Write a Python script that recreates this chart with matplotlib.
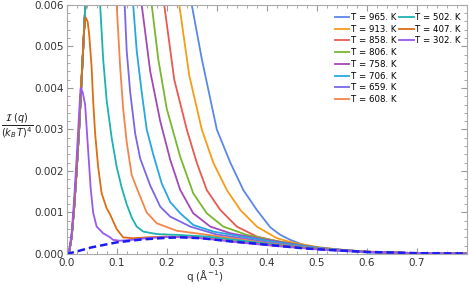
import matplotlib
matplotlib.use("Agg")
import matplotlib.pyplot as plt
from matplotlib.lines import Line2D
from matplotlib.ticker import MultipleLocator, FormatStrFormatter

# shared steep rise near q = 0 (all curves overlap there)
rise_q = [0.0, 0.005, 0.01, 0.015, 0.02, 0.025, 0.03, 0.035, 0.04]
rise_v = [0.0, 0.00004, 0.0004, 0.0011, 0.002, 0.003, 0.0042, 0.0054, 0.0066]

temps = [965, 913, 858, 806, 758, 706, 659, 608, 502, 407, 302]
colors = ["#5a88e6", "#f59d1a", "#e85a4f", "#79b72f", "#a448b8", "#27a7e0",
          "#7868e8", "#f4844a", "#1bb3b0", "#dd6d12", "#9a58ee"]

# decaying part of each curve, q in 1/A
tail_q = {
    965: [0.06, 0.25, 0.27, 0.3, 0.327, 0.353, 0.38, 0.407, 0.427, 0.447, 0.473, 0.507, 0.54, 0.607, 0.7, 0.8],
    913: [0.06, 0.225, 0.245, 0.27, 0.293, 0.32, 0.347, 0.38, 0.42, 0.45, 0.5, 0.55, 0.6, 0.7, 0.8],
    858: [0.06, 0.195, 0.215, 0.24, 0.26, 0.28, 0.307, 0.34, 0.38, 0.42, 0.47, 0.52, 0.6, 0.7, 0.8],
    806: [0.06, 0.17, 0.183, 0.2, 0.227, 0.253, 0.28, 0.313, 0.36, 0.42, 0.47, 0.52, 0.6, 0.7, 0.8],
    758: [0.06, 0.15, 0.167, 0.187, 0.207, 0.227, 0.253, 0.287, 0.327, 0.38, 0.43, 0.5, 0.6, 0.7, 0.8],
    706: [0.06, 0.133, 0.14, 0.15, 0.16, 0.173, 0.19, 0.207, 0.227, 0.253, 0.293, 0.35, 0.42, 0.5, 0.6, 0.7, 0.8],
    659: [0.06, 0.116, 0.12, 0.127, 0.137, 0.147, 0.167, 0.187, 0.207, 0.247, 0.3, 0.35, 0.42, 0.5, 0.6, 0.7, 0.8],
    608: [0.06, 0.1, 0.107, 0.113, 0.12, 0.13, 0.143, 0.16, 0.18, 0.22, 0.27, 0.33, 0.4, 0.5, 0.6, 0.7, 0.8],
    502: [0.05, 0.067, 0.073, 0.08, 0.09, 0.1, 0.11, 0.12, 0.13, 0.14, 0.153, 0.18, 0.22, 0.28, 0.35, 0.42, 0.5, 0.6, 0.7, 0.8],
}
tail_v = {
    965: [0.009, 0.006, 0.0047, 0.003, 0.0022, 0.00154, 0.00106, 0.00064, 0.00046, 0.00034, 0.00022, 0.00014, 0.00008, 0.00003, 0.00002, 0.00001],
    913: [0.009, 0.006, 0.0043, 0.003, 0.0022, 0.00154, 0.00106, 0.00066, 0.00038, 0.00028, 0.00017, 0.0001, 0.00006, 0.00002, 0.00001],
    858: [0.009, 0.006, 0.0042, 0.003, 0.0022, 0.00154, 0.00106, 0.00066, 0.00042, 0.00031, 0.00021, 0.00012, 0.00005, 0.00002, 0.00001],
    806: [0.009, 0.006, 0.0047, 0.0035, 0.00234, 0.00146, 0.00098, 0.00066, 0.00046, 0.00031, 0.00021, 0.00012, 0.00005, 0.00002, 0.00001],
    758: [0.009, 0.006, 0.0044, 0.0032, 0.00227, 0.00154, 0.00098, 0.00066, 0.0005, 0.00038, 0.00028, 0.00015, 0.00005, 0.00002, 0.00001],
    706: [0.009, 0.006, 0.0049, 0.0039, 0.003, 0.0024, 0.0017, 0.00125, 0.00098, 0.0007, 0.00054, 0.00042, 0.00028, 0.00015, 0.00005, 0.00002, 0.00001],
    659: [0.009, 0.006, 0.0049, 0.0039, 0.0029, 0.0023, 0.00165, 0.00114, 0.0009, 0.00066, 0.00047, 0.00038, 0.00025, 0.00014, 0.00005, 0.00002, 0.00001],
    608: [0.009, 0.006, 0.0045, 0.0035, 0.0027, 0.0019, 0.0015, 0.001, 0.00074, 0.00056, 0.00048, 0.00038, 0.00026, 0.00013, 0.00005, 0.00002, 0.00001],
    502: [0.0085, 0.006, 0.0047, 0.0037, 0.0028, 0.0021, 0.0016, 0.0012, 0.00088, 0.00066, 0.00054, 0.00048, 0.00046, 0.00042, 0.00032, 0.00022, 0.00013, 0.00005, 0.00002, 0.00001],
}

# the two coolest curves peak inside the frame
q407 = [0.0, 0.005, 0.01, 0.015, 0.02, 0.025, 0.03, 0.035, 0.038, 0.042, 0.045, 0.05, 0.053, 0.057, 0.063,
        0.07, 0.08, 0.087, 0.1, 0.113, 0.133, 0.16, 0.2, 0.25, 0.3, 0.35, 0.42, 0.5, 0.6, 0.7, 0.8]
v407 = [0.0, 0.00004, 0.0004, 0.0011, 0.002, 0.0031, 0.0043, 0.0054, 0.0057, 0.0056, 0.0053, 0.0045, 0.0037, 0.0029, 0.0021,
        0.00146, 0.0011, 0.00095, 0.0006, 0.0004, 0.00038, 0.0004, 0.00042, 0.0004, 0.00035, 0.00028, 0.0002, 0.00012, 0.00005, 0.00002, 0.00001]
q302 = [0.0, 0.005, 0.01, 0.015, 0.02, 0.025, 0.028, 0.032, 0.037, 0.043, 0.048, 0.053, 0.06, 0.073, 0.087,
        0.093, 0.107, 0.13, 0.16, 0.2, 0.25, 0.3, 0.35, 0.42, 0.5, 0.6, 0.7, 0.8]
v302 = [0.0, 0.00005, 0.0005, 0.0013, 0.0023, 0.0034, 0.004, 0.0039, 0.0036, 0.0025, 0.0016, 0.001, 0.00066, 0.0005, 0.0004,
        0.00034, 0.00032, 0.00034, 0.00038, 0.00041, 0.0004, 0.00034, 0.00027, 0.00019, 0.00011, 0.00005, 0.00002, 0.00001]

# dashed lower envelope
base_q = [0.0, 0.02, 0.05, 0.1, 0.15, 0.2, 0.23, 0.27, 0.33, 0.37, 0.42, 0.47, 0.52, 0.6, 0.7, 0.8]
base_v = [0.0, 0.00006, 0.00016, 0.00028, 0.00035, 0.00039, 0.0004, 0.00038, 0.0003, 0.00026, 0.0002, 0.00014, 0.0001, 0.00005, 0.00002, 0.00001]

fig = plt.figure(figsize=(4.69, 2.87), dpi=100)
ax = fig.add_axes([0.142, 0.115, 0.854, 0.868])

handles = []
for T, c in zip(temps, colors):
    if T == 407:
        qs, vs = q407, v407
    elif T == 302:
        qs, vs = q302, v302
    else:
        qs, vs = rise_q + tail_q[T], rise_v + tail_v[T]
    ln, = ax.plot(qs, vs, color=c, lw=1.3, label="T = %d. K" % T)
    handles.append(ln)

ax.plot(base_q, base_v, color="#1c1cf0", lw=1.8, ls=(0, (3, 1.6)))

ax.set_xlim(0, 0.8)
ax.set_ylim(0, 0.006)
ax.xaxis.set_major_locator(MultipleLocator(0.1))
ax.xaxis.set_minor_locator(MultipleLocator(0.02))
ax.yaxis.set_major_locator(MultipleLocator(0.001))
ax.yaxis.set_minor_locator(MultipleLocator(0.0002))
ax.xaxis.set_major_formatter(FormatStrFormatter("%.1f"))
ax.yaxis.set_major_formatter(FormatStrFormatter("%.3f"))
ax.set_xticks([0, 0.1, 0.2, 0.3, 0.4, 0.5, 0.6, 0.7])
ax.tick_params(which="both", direction="in", top=True, right=True, color="#999999",
               labelsize=7.5, labelcolor="#333333")
ax.tick_params(axis="x", pad=3)
ax.tick_params(axis="y", pad=2)
ax.tick_params(which="major", length=4)
ax.tick_params(which="minor", length=2)
for s in ax.spines.values():
    s.set_color("#aaaaaa")
    s.set_linewidth(0.8)

# pad second legend column with blanks so it holds 8 + 3 entries
blank = [Line2D([], [], alpha=0) for _ in range(5)]
ax.legend(handles + blank, [h.get_label() for h in handles] + [""] * 5, ncol=2,
          loc="upper right", bbox_to_anchor=(0.995, 0.985), frameon=False, fontsize=6.2,
          handlelength=1.7, handletextpad=0.2, columnspacing=0.3, labelspacing=0.32,
          borderpad=0.2, borderaxespad=0.3)

ax.set_xlabel(r"q ($\mathrm{\AA}^{-1}$)", fontsize=7.5, color="#333333")
ax.xaxis.set_label_coords(0.345, -0.055)
fig.text(17 / 469, 1 - 126 / 287, r"$\frac{\mathcal{I}\ (q)}{(k_B\,T)^4}$",
         ha="center", va="center", fontsize=10, color="#222222")

fig.savefig("out.png", dpi=100)
